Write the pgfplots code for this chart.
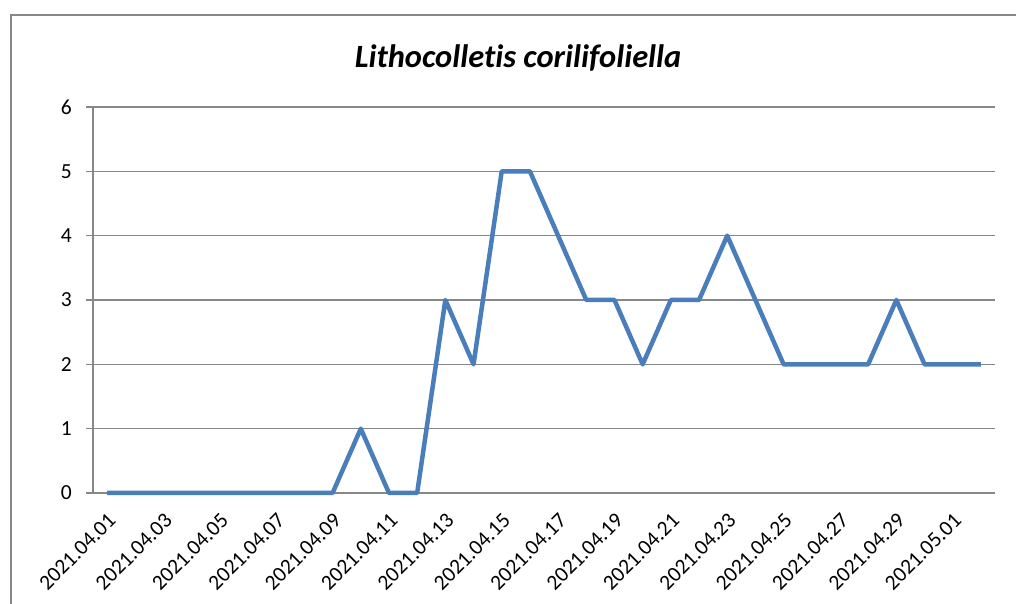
\documentclass[border=0pt]{standalone}
\usepackage{pgfplots}
\pgfplotsset{compat=1.18}
\usepackage{fontspec}
\setmainfont{Carlito}[Ligatures=NoCommon]
\definecolor{linec}{HTML}{4A7EBB}
\definecolor{gridc}{HTML}{878787}
\begin{document}
\begin{tikzpicture}[x=1pt,y=1pt]
\useasboundingbox (0,0) rectangle (1016,604);
\draw[gridc, line width=1.3pt] (11,-5) -- (11,589) -- (1021,589);
\node[font=\fontsize{32.5}{38}\selectfont\bfseries\itshape] at (518,546) {Lithocolletis corilifoliella};
\begin{axis}[at={(93pt,111pt)}, anchor=south west, scale only axis,
  width=902pt, height=386pt,
  xmin=-0.5, xmax=31.5, ymin=0, ymax=6,
  ytick={0,...,6},
  xtick={0,2,...,30},
  xticklabels={2021.04.01,2021.04.03,2021.04.05,2021.04.07,2021.04.09,2021.04.11,2021.04.13,2021.04.15,2021.04.17,2021.04.19,2021.04.21,2021.04.23,2021.04.25,2021.04.27,2021.04.29,2021.05.01},
  extra x ticks={-0.5,1.5,...,31.5},
  extra x tick labels={},
  extra x tick style={major tick length=7pt, tick style={gridc, line width=1.3pt}},
  x tick style={draw=none},
  axis x line*=bottom, axis y line*=left,
  axis line style={gridc, line width=1.3pt},
  tick align=outside,
  y tick style={gridc, line width=1.3pt}, major tick length=7pt,
  ymajorgrids, grid style={gridc, line width=1.3pt},
  /pgf/number format/assume math mode=true,
  tick label style={font=\fontsize{21.5}{26}\selectfont},
  xticklabel style={xshift=5pt, yshift=-17pt, rotate=45, anchor=east, inner sep=0pt},
  yticklabel style={inner sep=0pt, xshift=-14pt},
  clip=false,
]
\addplot[linec, line width=4.5pt, line join=round] coordinates {
(0,0)(1,0)(2,0)(3,0)(4,0)(5,0)(6,0)(7,0)(8,0)(9,1)(10,0)(11,0)(12,3)(13,2)(14,5)(15,5)(16,4)(17,3)(18,3)(19,2)(20,3)(21,3)(22,4)(23,3)(24,2)(25,2)(26,2)(27,2)(28,3)(29,2)(30,2)(31,2)};
\end{axis}
\end{tikzpicture}
\end{document}
